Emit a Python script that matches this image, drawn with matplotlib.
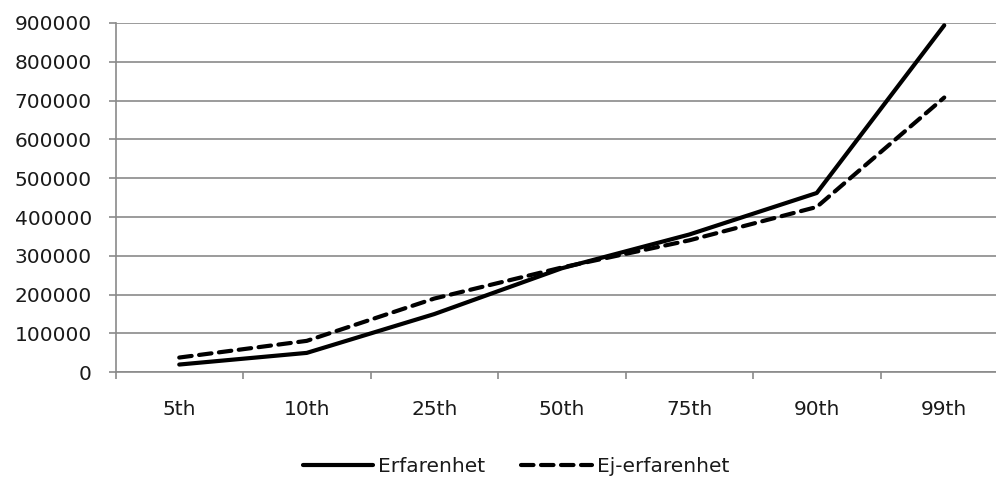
import numpy as np
import matplotlib
matplotlib.use("Agg")
import matplotlib.pyplot as plt

# percentile categories and the two series
categories = ["5th", "10th", "25th", "50th", "75th", "90th", "99th"]
erfarenhet = [20000, 50000, 150000, 268000, 355000, 462000, 894000]
ej_erfarenhet = [38000, 81000, 190000, 270000, 340000, 426000, 708000]
yticks = [0, 100000, 200000, 300000, 400000, 500000, 600000, 700000, 800000, 900000]

plt.rcParams['font.family'] = ['DejaVu Sans']
grey = '#8a8a8a'
fs = 14.5

fig = plt.figure(figsize=(9.96, 4.8), dpi=100)
ax = fig.add_axes([115.5/996, 107.7/480, 892.5/996, 349.3/480])

x = np.arange(len(categories))
ax.plot(x, erfarenhet, color='black', lw=3, solid_capstyle='round',
        solid_joinstyle='round', label='Erfarenhet', zorder=3)
ax.plot(x, ej_erfarenhet, color='black', lw=3, linestyle=(0, (3.0, 1.8)),
        dash_capstyle='round', label='Ej-erfarenhet', zorder=3)

ax.set_xlim(-0.5, len(categories) - 0.5)
ax.set_ylim(0, 900000)
ax.set_yticks(yticks)
ax.set_yticklabels([str(v) for v in yticks])
ax.set_xticks(x)
ax.set_xticklabels(categories)
ax.set_xticks(np.arange(-0.5, len(categories)), minor=True)

ax.grid(axis='y', color=grey, lw=1.2, zorder=0)
for s in ['top', 'right']:
    ax.spines[s].set_visible(False)
for s in ['left', 'bottom']:
    ax.spines[s].set_color(grey)
    ax.spines[s].set_linewidth(1.2)

ax.tick_params(axis='y', direction='out', length=5, width=1.2, color=grey,
               pad=12, labelsize=fs, labelcolor='#1a1a1a')
ax.tick_params(axis='x', which='major', length=0, pad=20, labelsize=fs,
               labelcolor='#1a1a1a')
ax.tick_params(axis='x', which='minor', direction='out', length=5, width=1.2,
               color=grey)

fig.legend(loc='center', bbox_to_anchor=(0.518, 0.028), ncol=2, frameon=False,
           fontsize=fs, handlelength=3.5, handletextpad=0.25,
           columnspacing=1.8, labelcolor='#1a1a1a')

fig.savefig('out.png', dpi=100)
